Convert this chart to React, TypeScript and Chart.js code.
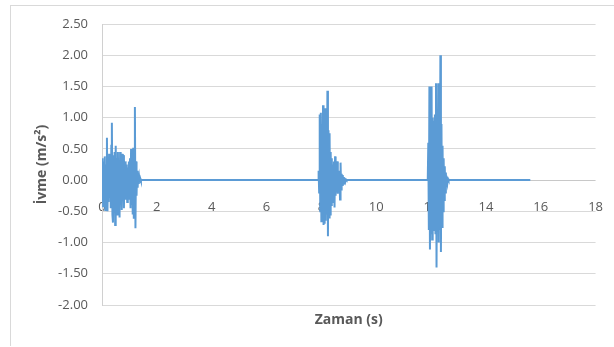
import React, { useEffect, useRef } from "react";
import { Chart, registerables } from "chart.js";

Chart.register(...registerables);

// Sampling interval of the recorded acceleration signal (s)
const SAMPLE_DT = 0.02;

// Burst 1 (starts at t = 0 s)
const BURST1_START = 0.0;
const BURST1 = [
  0.0, 0.35, -0.42, 0.3, -0.25, 0.38, -0.48, 0.25, -0.3, 0.68,
  -0.5, 0.3, -0.35, 0.42, -0.28, 0.35, -0.45, 0.55, 0.92, -0.55,
  -0.68, 0.4, -0.45, 0.45, -0.72, 0.55, -0.4, 0.35, -0.55, 0.45,
  -0.35, 0.3, -0.6, 0.45, -0.3, 0.28, -0.48, 0.42, -0.25, 0.4,
  -0.45, 0.22, -0.3, 0.3, -0.2, 0.25, -0.35, 0.2, -0.25, 0.3,
  -0.3, 0.35, -0.45, 0.5, -0.4, 0.45, -0.55, 0.52, -0.62, 0.4,
  1.17, -0.77, 0.3, -0.25, 0.15, -0.12, 0.08, -0.06, 0.04, -0.03,
  0.02, -0.01, 0.0,
];

// Burst 2 (around t = 8 s)
const BURST2_START = 7.88;
const BURST2 = [
  0.0, 0.15, -0.2, 1.05, -0.5, 1.08, -0.66, 0.9, -0.6, 1.2,
  -0.72, 0.85, -0.7, 1.15, -0.65, 0.95, -0.55, 1.43, -0.9, 0.8,
  -0.6, 0.75, -0.55, 0.45, -0.4, 0.35, -0.3, 0.25, -0.35, 0.3,
  -0.44, 0.38, -0.25, 0.2, -0.2, 0.3, -0.22, 0.15, -0.18, 0.12,
  -0.31, 0.28, -0.15, 0.1, -0.08, 0.08, -0.06, 0.05, -0.04, 0.03,
  -0.02, 0.01, 0.0,
];

// Burst 3 (around t = 12 s)
const BURST3_START = 11.88;
const BURST3 = [
  0.0, 0.6, -0.8, 1.5, -1.11, 0.95, -0.85, 1.5, -0.95, 1.0,
  -0.8, 0.95, -0.75, 1.05, -0.85, 1.55, -1.4, 1.0, -0.8, 1.55,
  -1.0, 0.95, -0.8, 2.0, -1.15, 0.9, -0.75, 0.55, -0.5, 0.35,
  -0.32, 0.22, -0.2, 0.12, -0.1, 0.05, -0.04, 0.02, 0.0,
];

const RECORD_END = 15.62;

const X_MIN = 0;
const X_MAX = 18;
const X_STEP = 2;
const Y_MIN = -2;
const Y_MAX = 2.5;
const Y_STEP = 0.5;

const X_TITLE = "Zaman (s)";
const Y_TITLE = "İvme (m/s²)";

function buildPoints() {
  const pts: { x: number; y: number }[] = [];
  const add = (start: number, vals: number[]) => {
    vals.forEach((v, i) => {
      pts.push({ x: Math.round((start + i * SAMPLE_DT) * 1000) / 1000, y: v });
    });
  };
  add(BURST1_START, BURST1);
  add(BURST2_START, BURST2);
  add(BURST3_START, BURST3);
  pts.push({ x: RECORD_END, y: 0 });
  return pts;
}

export default function App() {
  const canvasRef = useRef<HTMLCanvasElement | null>(null);

  useEffect(() => {
    if (!canvasRef.current) return;
    const tickFont = { family: "'Open Sans', sans-serif", size: 13 };
    const titleFont = { family: "'Open Sans', sans-serif", size: 14, weight: "bold" as const };
    const chart = new Chart(canvasRef.current, {
      type: "line",
      data: {
        datasets: [
          {
            data: buildPoints(),
            borderColor: "#5b9bd5",
            backgroundColor: "#5b9bd5",
            borderWidth: 2,
            pointRadius: 0,
            tension: 0,
            fill: false,
          },
        ],
      },
      options: {
        responsive: false,
        animation: false,
        events: [],
        layout: { padding: { left: 0, top: 24, right: 17, bottom: 0 } },
        plugins: { legend: { display: false }, tooltip: { enabled: false } },
        scales: {
          x: {
            type: "linear",
            axis: "x",
            position: { y: 0 } as any,
            min: X_MIN,
            max: X_MAX,
            ticks: {
              stepSize: X_STEP,
              autoSkip: false,
              maxRotation: 0,
              color: "#595959",
              font: tickFont,
              padding: 11,
            },
            grid: { display: false },
            border: { display: false },
          },
          x2: {
            type: "linear",
            axis: "x",
            position: "bottom",
            min: X_MIN,
            max: X_MAX,
            ticks: { display: false },
            grid: { display: false },
            border: { display: false },
            title: {
              display: true,
              text: X_TITLE,
              color: "#595959",
              font: titleFont,
              padding: { top: 0, bottom: 19 },
            },
            afterFit: (s: any) => {
              s.height = 42;
            },
          },
          y: {
            type: "linear",
            position: "left",
            min: Y_MIN,
            max: Y_MAX,
            ticks: {
              stepSize: Y_STEP,
              color: "#595959",
              font: tickFont,
              padding: 14,
              callback: (v: any) => Number(v).toFixed(2),
            },
            grid: {
              color: (ctx: any) => (ctx.tick && ctx.tick.value === 0 ? "#c8c8c8" : "#d9d9d9"),
              drawTicks: false,
              lineWidth: 1,
            },
            border: { display: true, color: "#d0d0d0" },
            title: {
              display: true,
              text: Y_TITLE,
              color: "#595959",
              font: titleFont,
              padding: { top: 34, bottom: 0 },
            },
            afterFit: (s: any) => {
              s.width = 102;
            },
          },
        } as any,
      },
    });
    return () => chart.destroy();
  }, []);

  return (
    <div style={{ position: "fixed", left: 0, top: 0, width: 614, height: 347, background: "#fff", overflow: "hidden" }}>
      <div
        style={{
          position: "absolute",
          left: 10,
          top: 5,
          width: 640,
          height: 341,
          borderLeft: "1px solid #d9d9d9",
          borderTop: "1px solid #d9d9d9",
          boxSizing: "border-box",
        }}
      />
      <canvas ref={canvasRef} width={614} height={347} style={{ position: "absolute", left: 0, top: 0 }} />
    </div>
  );
}
